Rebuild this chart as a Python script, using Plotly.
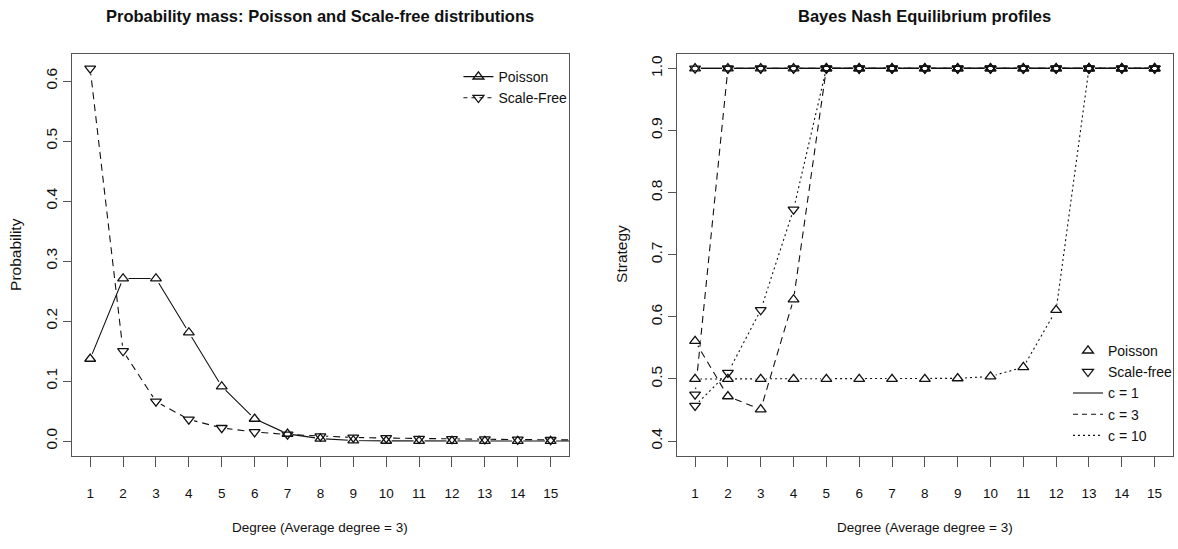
import plotly.graph_objects as go

# ---------------- data ----------------
degree_left = [1, 2, 3, 4, 5, 6, 7, 8, 9, 10, 11, 12, 13, 14, 15, 16]
poisson_prob = [0.137, 0.271, 0.271, 0.181, 0.091, 0.037, 0.012, 0.004, 0.001,
                0.0003, 0.0001, 0.0, 0.0, 0.0, 0.0, 0.0]
scalefree_prob = [0.621, 0.150, 0.066, 0.036, 0.022, 0.015, 0.011, 0.008, 0.006,
                  0.005, 0.004, 0.0035, 0.003, 0.0025, 0.002, 0.0018]

degree_right = [1, 2, 3, 4, 5, 6, 7, 8, 9, 10, 11, 12, 13, 14, 15]
c1_poisson = [1.0, 1.0, 1.0, 1.0, 1.0, 1.0, 1.0, 1.0, 1.0, 1.0, 1.0, 1.0, 1.0, 1.0, 1.0]
c1_scalefree = [1.0, 1.0, 1.0, 1.0, 1.0, 1.0, 1.0, 1.0, 1.0, 1.0, 1.0, 1.0, 1.0, 1.0, 1.0]
c3_poisson = [0.561, 0.472, 0.451, 0.628, 1.0, 1.0, 1.0, 1.0, 1.0, 1.0, 1.0, 1.0, 1.0, 1.0, 1.0]
c3_scalefree = [0.475, 1.0, 1.0, 1.0, 1.0, 1.0, 1.0, 1.0, 1.0, 1.0, 1.0, 1.0, 1.0, 1.0, 1.0]
c10_poisson = [0.500, 0.500, 0.500, 0.500, 0.500, 0.500, 0.500, 0.500, 0.501, 0.504,
               0.519, 0.611, 1.0, 1.0, 1.0]
c10_scalefree = [0.457, 0.510, 0.611, 0.773, 1.0, 1.0, 1.0, 1.0, 1.0, 1.0, 1.0, 1.0, 1.0, 1.0, 1.0]

xtick_vals = [1, 2, 3, 4, 5, 6, 7, 8, 9, 10, 11, 12, 13, 14, 15]
xtick_text = ["1", "2", "3", "4", "5", "6", "7", "8", "9", "10", "11", "12", "13", "14", "15"]
left_ytick_vals = [0.0, 0.1, 0.2, 0.3, 0.4, 0.5, 0.6]
left_ytick_text = ["0.0", "0.1", "0.2", "0.3", "0.4", "0.5", "0.6"]
right_ytick_vals = [0.4, 0.5, 0.6, 0.7, 0.8, 0.9, 1.0]
right_ytick_text = ["0.4", "0.5", "0.6", "0.7", "0.8", "0.9", "1.0"]

# ---------------- style ----------------
W, H = 1178, 549
FONT = "Liberation Sans, Arial, sans-serif"
INK = "#111111"
BOX = "#555555"
DASH = "7px,5px"
DOT = "2px,3px"
MSIZE = 9.5
HALO = 11


def px_x(p):
    return p / W


def px_y(p):
    return 1 - p / H


fig = go.Figure()

left_series = [
    (poisson_prob, "solid", "triangle-up-open"),
    (scalefree_prob, DASH, "triangle-down-open"),
]
right_series = [
    (c1_poisson, "solid", "triangle-up-open"),
    (c1_scalefree, "solid", "triangle-down-open"),
    (c3_poisson, DASH, "triangle-up-open"),
    (c3_scalefree, DASH, "triangle-down-open"),
    (c10_poisson, DOT, "triangle-up-open"),
    (c10_scalefree, DOT, "triangle-down-open"),
]


def add_panel(xs, series, xa, ya):
    for ys, dash, sym in series:
        fig.add_trace(go.Scatter(x=xs, y=ys, mode="lines", xaxis=xa, yaxis=ya,
                                 line=dict(color=INK, width=1.1, dash=dash),
                                 showlegend=False, hoverinfo="skip"))
    for ys, dash, sym in series:
        fig.add_trace(go.Scatter(x=xs, y=ys, mode="markers", xaxis=xa, yaxis=ya,
                                 marker=dict(symbol="circle", size=HALO, color="white",
                                             line=dict(width=0)),
                                 showlegend=False, hoverinfo="skip"))
    for ys, dash, sym in series:
        fig.add_trace(go.Scatter(x=xs, y=ys, mode="markers", xaxis=xa, yaxis=ya,
                                 marker=dict(symbol=sym, size=MSIZE, color=INK,
                                             line=dict(width=1.3, color=INK)),
                                 showlegend=False, hoverinfo="skip"))


add_panel(degree_left, left_series, "x", "y")
add_panel(degree_right, right_series, "x2", "y2")

# legend entries (left)
fig.add_trace(go.Scatter(x=[None], y=[None], mode="lines+markers", name="Poisson",
                         xaxis="x", yaxis="y", legend="legend",
                         line=dict(color=INK, width=1.1),
                         marker=dict(symbol="triangle-up-open", size=MSIZE, color=INK,
                                     line=dict(width=1.3, color=INK))))
fig.add_trace(go.Scatter(x=[None], y=[None], mode="lines+markers", name="Scale-Free",
                         xaxis="x", yaxis="y", legend="legend",
                         line=dict(color=INK, width=1.1, dash="4px,4px"),
                         marker=dict(symbol="triangle-down-open", size=MSIZE, color=INK,
                                     line=dict(width=1.3, color=INK))))
# legend entries (right)
fig.add_trace(go.Scatter(x=[None], y=[None], mode="markers", name="Poisson",
                         xaxis="x2", yaxis="y2", legend="legend2",
                         marker=dict(symbol="triangle-up-open", size=MSIZE, color=INK,
                                     line=dict(width=1.3, color=INK))))
fig.add_trace(go.Scatter(x=[None], y=[None], mode="markers", name="Scale-free",
                         xaxis="x2", yaxis="y2", legend="legend2",
                         marker=dict(symbol="triangle-down-open", size=MSIZE, color=INK,
                                     line=dict(width=1.3, color=INK))))
for nm, dash in [("c = 1", "solid"), ("c = 3", "5px,4px"), ("c = 10", DOT)]:
    fig.add_trace(go.Scatter(x=[None], y=[None], mode="lines", name=nm,
                             xaxis="x2", yaxis="y2", legend="legend2",
                             line=dict(color=INK, width=1.1, dash=dash)))

ydom = [px_y(456), px_y(53.5)]

xcommon = dict(range=[0.44, 15.56], tickmode="array", tickvals=xtick_vals, ticktext=xtick_text,
               ticks="outside", ticklen=10, tickwidth=1, tickcolor=BOX,
               showline=True, mirror=True, linecolor=BOX, linewidth=1,
               showgrid=False, zeroline=False,
               tickfont=dict(family=FONT, size=13.5, color=INK), ticklabelstandoff=15)
ycommon = dict(tickmode="array", tickangle=-90,
               ticks="outside", ticklen=8, tickwidth=1, tickcolor=BOX,
               showline=True, mirror=True, linecolor=BOX, linewidth=1,
               showgrid=False, zeroline=False,
               tickfont=dict(family=FONT, size=15.5, color=INK), ticklabelstandoff=0)

fig.update_layout(
    width=W, height=H,
    margin=dict(l=0, r=0, t=0, b=0),
    paper_bgcolor="white", plot_bgcolor="white",
    xaxis=dict(domain=[px_x(72), px_x(571)], anchor="y", **xcommon),
    yaxis=dict(domain=ydom, anchor="x", range=[-0.0249, 0.6459],
               tickvals=left_ytick_vals, ticktext=left_ytick_text, **ycommon),
    xaxis2=dict(domain=[px_x(679), px_x(1177)], anchor="y2", **xcommon),
    yaxis2=dict(domain=ydom, anchor="x2", range=[0.376, 1.024],
                tickvals=right_ytick_vals, ticktext=right_ytick_text, **ycommon),
    legend=dict(x=px_x(460), y=px_y(61), xanchor="left", yanchor="top",
                bgcolor="rgba(0,0,0,0)", borderwidth=0,
                font=dict(family=FONT, size=14, color=INK)),
    legend2=dict(x=px_x(1072), y=px_y(335), xanchor="left", yanchor="top",
                 bgcolor="rgba(0,0,0,0)", borderwidth=0,
                 font=dict(family=FONT, size=14, color=INK)),
    annotations=[
        dict(text="<b>Probability mass: Poisson and Scale-free distributions</b>",
             x=px_x(321.5), y=px_y(16), xref="paper", yref="paper", showarrow=False,
             xanchor="center", yanchor="middle",
             font=dict(family=FONT, size=16.5, color=INK)),
        dict(text="<b>Bayes Nash Equilibrium profiles</b>",
             x=px_x(928), y=px_y(16), xref="paper", yref="paper", showarrow=False,
             xanchor="center", yanchor="middle",
             font=dict(family=FONT, size=16.5, color=INK)),
        dict(text="Degree (Average degree = 3)",
             x=px_x(321.5), y=px_y(527), xref="paper", yref="paper", showarrow=False,
             xanchor="center", yanchor="middle",
             font=dict(family=FONT, size=13.5, color=INK)),
        dict(text="Degree (Average degree = 3)",
             x=px_x(928), y=px_y(527), xref="paper", yref="paper", showarrow=False,
             xanchor="center", yanchor="middle",
             font=dict(family=FONT, size=13.5, color=INK)),
        dict(text="Probability", textangle=-90,
             x=px_x(16), y=px_y(254), xref="paper", yref="paper", showarrow=False,
             xanchor="center", yanchor="middle",
             font=dict(family=FONT, size=15.5, color=INK)),
        dict(text="Strategy", textangle=-90,
             x=px_x(624), y=px_y(254), xref="paper", yref="paper", showarrow=False,
             xanchor="center", yanchor="middle",
             font=dict(family=FONT, size=15.5, color=INK)),
    ],
)

fig.write_html("out.html")
